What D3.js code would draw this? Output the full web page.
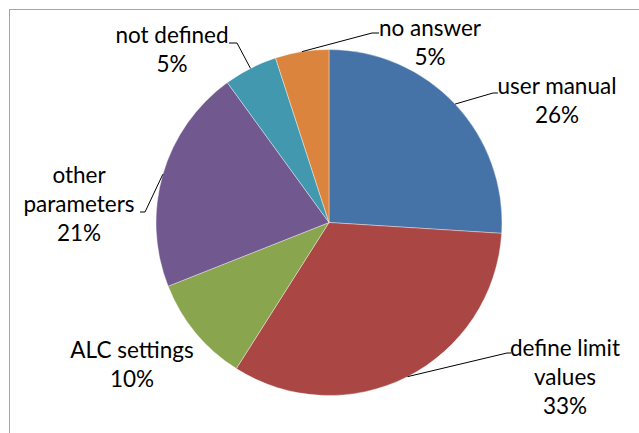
<!DOCTYPE html>
<html>
<head>
<meta charset="utf-8">
<script src="https://cdn.jsdelivr.net/npm/d3@7/dist/d3.min.js"></script>
<style>
  html, body { margin: 0; padding: 0; background: #fff; }
  svg { display: block; }
  text { font-family: Lato, "Open Sans", sans-serif; fill: #000; }
</style>
</head>
<body>
<svg id="chart" width="639" height="433"></svg>
<script>
// Survey answers, in clockwise order starting at twelve o'clock
const categories = ["user manual", "define limit values", "ALC settings", "other parameters", "not defined", "no answer"];
const shares = [26, 33, 10, 21, 5, 5];
const labelLines = [
  ["user manual"],
  ["define limit", "values"],
  ["ALC settings"],
  ["other", "parameters"],
  ["not defined"],
  ["no answer"]
];
const colors = ["#4572A7", "#AA4643", "#89A54E", "#71588F", "#4198AF", "#DB843D"];

// Label block placement: centre x, first baseline y, and leader elbow/end (null = no leader)
const labelLayout = [
  { x: 557, y: 94,  leader: [[493, 93], [498, 93]] },
  { x: 565, y: 356, leader: [[507, 353], [511, 353]] },
  { x: 132, y: 358, leader: null },
  { x: 79,  y: 183, leader: [[145, 212], [140, 212]] },
  { x: 172, y: 43,  leader: [[237, 43], [229, 43]] },
  { x: 430, y: 36,  leader: [[372, 33], [379, 33]] }
];

const width = 639, height = 433;
const cx = 329, cy = 222.5, radius = 173;
const lineGap = 29;

const svg = d3.select("#chart");

// chart area frame
svg.append("rect")
  .attr("x", 9.5).attr("y", 9.5)
  .attr("width", 640).attr("height", 440)
  .attr("fill", "none")
  .attr("stroke", "#a6a6a6")
  .attr("stroke-width", 1);

const data = categories.map((c, i) => ({ name: c, value: shares[i], i }));

const pie = d3.pie().value(d => d.value).sort(null);
const arcs = pie(data);
const arc = d3.arc().innerRadius(0).outerRadius(radius);

const g = svg.append("g").attr("transform", `translate(${cx},${cy})`);

g.selectAll("path.slice")
  .data(arcs)
  .join("path")
  .attr("class", "slice")
  .attr("d", arc)
  .attr("fill", d => colors[d.data.i])
  .attr("stroke", "rgba(255,255,255,0.5)")
  .attr("stroke-width", 0.75);

// leader lines from slice rim to label
const rimPoint = d => {
  const a = (d.startAngle + d.endAngle) / 2;
  return [cx + radius * Math.sin(a), cy - radius * Math.cos(a)];
};

arcs.forEach(d => {
  const lay = labelLayout[d.data.i];
  if (!lay.leader) return;
  const pts = [rimPoint(d), ...lay.leader];
  svg.append("path")
    .attr("d", d3.line()(pts))
    .attr("fill", "none")
    .attr("stroke", "#000")
    .attr("stroke-width", 1);
});

// labels: category name lines plus percentage
arcs.forEach(d => {
  const lay = labelLayout[d.data.i];
  const lines = [...labelLines[d.data.i], d3.format(".0f")(d.data.value) + "%"];
  const t = svg.append("text")
    .attr("text-anchor", "middle")
    .attr("font-size", 22.5);
  lines.forEach((s, k) => {
    t.append("tspan")
      .attr("x", lay.x)
      .attr("y", lay.y + k * lineGap)
      .text(s);
  });
});
</script>
</body>
</html>
